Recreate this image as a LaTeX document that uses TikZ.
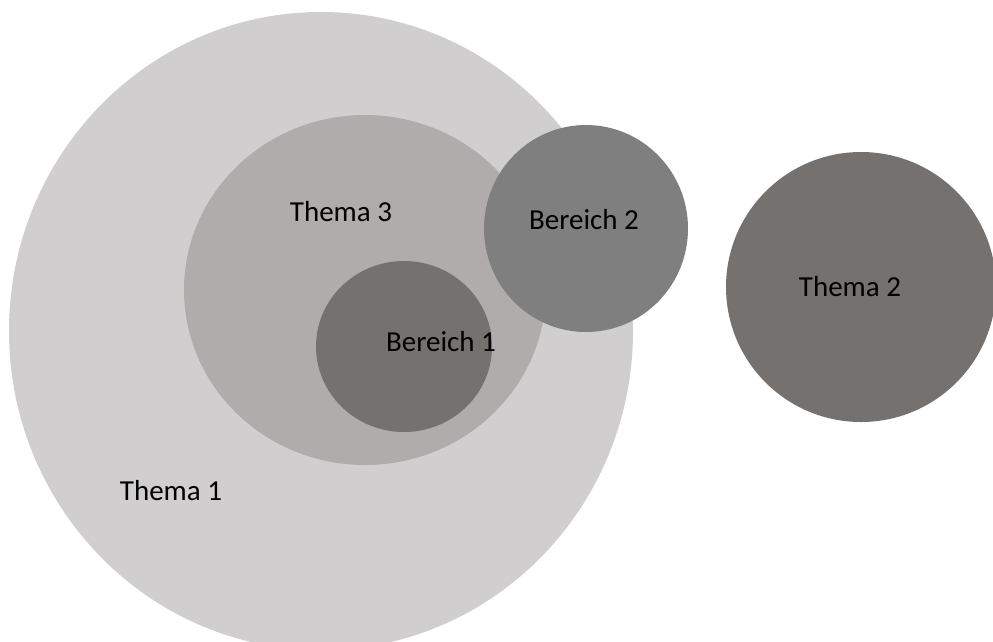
\documentclass[tikz,border=0pt]{standalone}
\usepackage{fontspec}
\setmainfont{Carlito}
\usetikzlibrary{shapes.geometric}
\definecolor{cThemaA}{HTML}{D0CECF}
\definecolor{cThemaC}{HTML}{AFACAB}
\definecolor{cBerA}{HTML}{75716F}
\definecolor{cBerB}{HTML}{7F7F7F}
\definecolor{cThemaB}{HTML}{75716F}
\tikzset{
  blob/.style={ellipse, draw=none, inner sep=0pt},
  lbl/.style={inner sep=0pt, font=\fontsize{29}{33}\selectfont, text=black}
}
\begin{document}
\begin{tikzpicture}[x=1pt,y=-1pt]
\useasboundingbox (0,0) rectangle (993,641);
\clip (0,0) rectangle (993,641);
\node[blob, fill=cThemaA, minimum width=624pt, minimum height=638pt] (t1) at (321,331) {};
\node[blob, fill=cThemaC, minimum width=362pt, minimum height=350pt] (t3) at (365,290) {};
\node[blob, fill=cBerA, minimum width=176pt, minimum height=171pt] (b1) at (404,346.5) {};
\node[blob, fill=cBerB, minimum width=204pt, minimum height=207pt] (b2) at (586,228.5) {};
\node[blob, fill=cThemaB, minimum width=270pt, minimum height=270pt] (t2) at (861,287) {};
\node[lbl] (l1) at (171,491) {Thema 1};
\node[lbl] (l3) at (341,212) {Thema 3};
\node[lbl] (lb1) at (441,342) {Bereich 1};
\node[lbl] (lb2) at (584,220) {Bereich 2};
\node[lbl] (l2) at (850,287) {Thema 2};
\end{tikzpicture}
\end{document}
